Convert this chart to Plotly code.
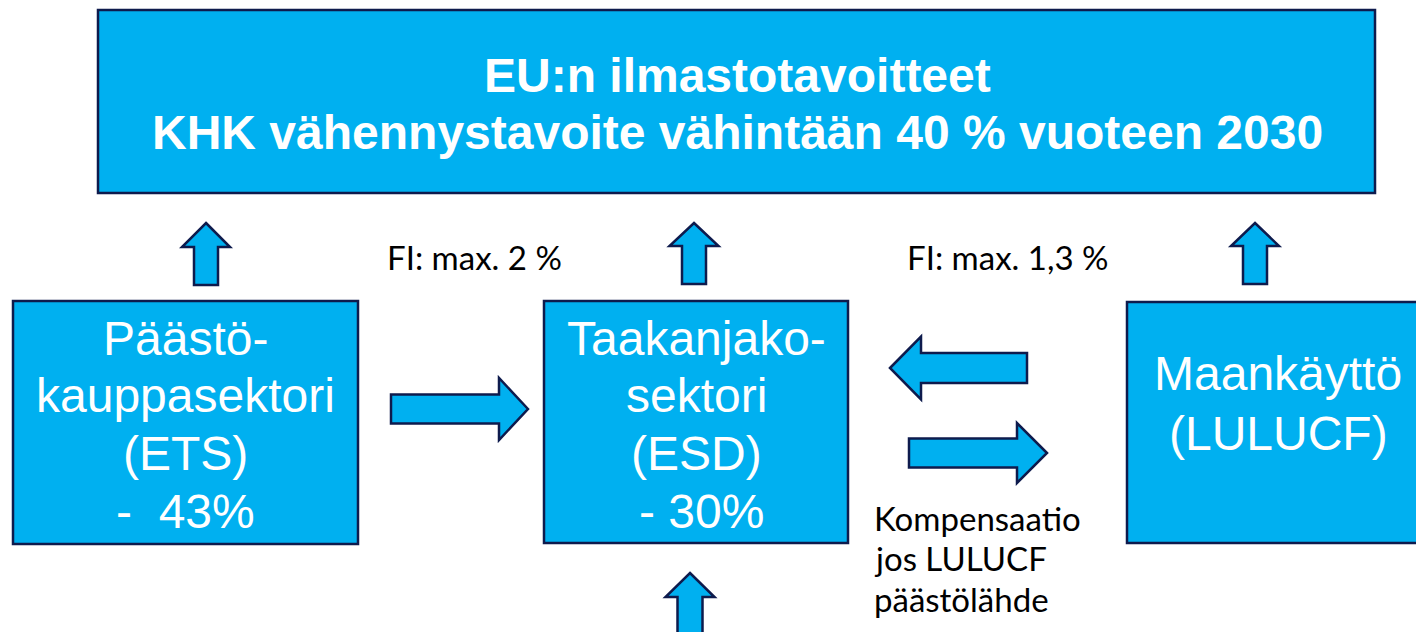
import plotly.graph_objects as go

# ---------------- data ----------------
W, H = 1416, 632
FILL = "#00B0F0"
EDGE = "#0E1B4D"

# boxes (pixel-like data coordinates, y downwards)
box_x0 = [98, 13, 544, 1127]
box_x1 = [1375, 358, 848, 1430]
box_y0 = [10, 301, 301, 302]
box_y1 = [193, 544, 543, 543]

# title text
title_lines = ["EU:n ilmastotavoitteet", "KHK vähennystavoite vähintään 40 % vuoteen 2030"]
title_x = 737
title_y = [75, 132]

# box texts
box_text_lines = [
    ["Päästö-", "kauppasektori", "(ETS)", "-\u00a0\u00a043%"],
    ["Taakanjako-", "sektori", "(ESD)", "- 30%"],
    ["Maankäyttö", "(LULUCF)"],
]
box_text_x = [185, 696, 1278]
box_text_y = [
    [338, 395, 453, 511],
    [338, 395, 453, 511],
    [373, 433],
]
box_text_dx = [[0, 0, 0, 0], [0, 0, 0, 5], [0, 0]]

# small labels
small_labels = ["FI: max. 2 %", "FI: max. 1,3 %", "Kompensaatio", "jos LULUCF", "päästölähde"]
small_x = [385, 905, 872, 872, 872]
small_y = [257, 257, 518, 558, 599]

# vertical (up) arrows: centre x, tip y, head-base y, tail y, head half-width, shaft half-width
up_cx = [206, 694, 1255, 690]
up_tip = [223, 223, 223, 573]
up_base = [247, 246, 246, 597]
up_tail = [285, 284, 284, 650]
up_hw = [24, 24.5, 24, 24.5]
up_sw = [12, 12, 12, 12.5]

# horizontal arrows: tip x, head-base x, tail x, centre y, head half-height, shaft half-height
h_tip = [528, 890, 1047]
h_base = [499, 921, 1017]
h_tail = [391, 1027, 909]
h_cy = [409, 368, 453]
h_hh = [31, 31.5, 30]
h_sh = [14.5, 15, 14.5]

# ---------------- figure ----------------
fig = go.Figure()
shapes = []
for x0, x1, y0, y1 in zip(box_x0, box_x1, box_y0, box_y1):
    shapes.append(dict(type="rect", xref="x", yref="y", x0=x0, x1=x1, y0=y0, y1=y1,
                       fillcolor=FILL, line=dict(color=EDGE, width=2.5), layer="below"))

for cx, tip, base, tail, hw, sw in zip(up_cx, up_tip, up_base, up_tail, up_hw, up_sw):
    p = (f"M {cx},{tip} L {cx+hw},{base} L {cx+sw},{base} L {cx+sw},{tail} "
         f"L {cx-sw},{tail} L {cx-sw},{base} L {cx-hw},{base} Z")
    shapes.append(dict(type="path", xref="x", yref="y", path=p, fillcolor=FILL,
                       line=dict(color=EDGE, width=2.5), layer="below"))

for tip, base, tail, cy, hh, sh in zip(h_tip, h_base, h_tail, h_cy, h_hh, h_sh):
    p = (f"M {tip},{cy} L {base},{cy-hh} L {base},{cy-sh} L {tail},{cy-sh} "
         f"L {tail},{cy+sh} L {base},{cy+sh} L {base},{cy+hh} Z")
    shapes.append(dict(type="path", xref="x", yref="y", path=p, fillcolor=FILL,
                       line=dict(color=EDGE, width=2.5), layer="below"))

annotations = []
for t, y in zip(title_lines, title_y):
    annotations.append(dict(x=title_x, y=y, xref="x", yref="y", text=f"<b>{t}</b>", showarrow=False,
                            xanchor="center", yanchor="middle",
                            font=dict(family="Liberation Sans, Arial", size=48, color="white")))
for lines, cx, ys, dxs in zip(box_text_lines, box_text_x, box_text_y, box_text_dx):
    for t, y, dx in zip(lines, ys, dxs):
        annotations.append(dict(x=cx + dx, y=y, xref="x", yref="y", text=t, showarrow=False,
                                xanchor="center", yanchor="middle",
                                font=dict(family="Liberation Sans, Arial", size=48, color="white")))
for t, x, y in zip(small_labels, small_x, small_y):
    annotations.append(dict(x=x, y=y, xref="x", yref="y", text=t, showarrow=False,
                            xanchor="left", yanchor="middle",
                            font=dict(family="Lato, Open Sans", size=33, color="black")))

fig.update_layout(
    width=W, height=H, margin=dict(l=0, r=0, t=0, b=0),
    paper_bgcolor="white", plot_bgcolor="white",
    shapes=shapes, annotations=annotations, showlegend=False,
    xaxis=dict(range=[0, W], visible=False, fixedrange=True),
    yaxis=dict(range=[H, 0], visible=False, fixedrange=True),
)
fig.write_html("out.html", config={"displayModeBar": False},
               post_script="document.body.style.margin='0';document.body.style.overflow='hidden';")
